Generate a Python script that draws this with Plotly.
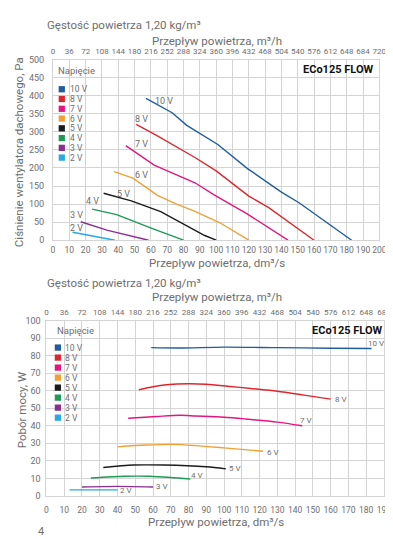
import plotly.graph_objects as go

W, H = 393, 539

# ---------------- data ----------------
voltages = ["10 V", "8 V", "7 V", "6 V", "5 V", "4 V", "3 V", "2 V"]
colors = ["#1f5c9e", "#e0262d", "#e5157f", "#f0a035", "#1b1b1b", "#1d9a56", "#8a2f8f", "#27a9e1"]

# pressure chart: flow dm3/s vs pressure Pa
pr_flow_10 = [57, 73, 82, 93, 101, 119, 140, 151, 183]
pr_pa_10 = [393, 353, 318, 286, 265, 199, 133, 103, 0]
pr_flow_8 = [51, 64, 87, 100, 120, 132, 160]
pr_pa_8 = [321, 289, 229, 192, 122, 91, 0]
pr_flow_7 = [44.6, 62, 87, 99, 119, 144]
pr_pa_7 = [262, 208, 159, 125, 73, 0]
pr_flow_6 = [37.4, 49, 64, 75, 87, 102, 120]
pr_pa_6 = [190, 172, 124, 101, 80, 49, 0]
pr_flow_5 = [31, 48, 66, 93, 100]
pr_pa_5 = [130, 109, 79, 13, 0]
pr_flow_4 = [24, 39, 61, 80]
pr_pa_4 = [86, 71, 32, 0]
pr_flow_3 = [17, 33, 58.6]
pr_pa_3 = [51, 28, 0]
pr_flow_2 = [12, 38]
pr_pa_2 = [22, 0]

# power chart: flow dm3/s vs power W
pw_flow_10 = [59, 75, 100, 130, 160, 183]
pw_w_10 = [84.6, 84.4, 84.9, 84.6, 84.3, 84.1]
pw_flow_8 = [52, 60, 67.5, 80, 90, 102, 115, 130, 145, 160]
pw_w_8 = [60.6, 62.3, 63.4, 64.0, 63.7, 62.6, 61.3, 59.7, 57.5, 55.2]
pw_flow_7 = [46, 62, 75, 84, 100, 112, 130, 144]
pw_w_7 = [44.3, 45.3, 46.0, 45.6, 44.9, 43.9, 42.1, 40.0]
pw_flow_6 = [40, 56, 71, 84, 100, 122]
pw_w_6 = [28.0, 29.0, 29.4, 28.7, 27.4, 25.5]
pw_flow_5 = [32, 49, 66, 90, 101]
pw_w_5 = [16.2, 17.6, 17.6, 16.6, 15.4]
pw_flow_4 = [25, 44, 58, 70, 81]
pw_w_4 = [10.2, 11.2, 11.2, 10.5, 9.6]
pw_flow_3 = [20, 40, 60]
pw_w_3 = [5.1, 5.4, 5.1]
pw_flow_2 = [13, 40]
pw_w_2 = [3.4, 3.4]

# ticks
pr_x_ticks = list(range(0, 201, 10))
pr_top_ticks = list(range(0, 721, 36))
pr_y_ticks = list(range(0, 501, 50))
pw_x_ticks = list(range(0, 191, 10))
pw_top_ticks = list(range(0, 685, 36))
pw_y_ticks = list(range(0, 101, 10))

pr_series = [(pr_flow_10, pr_pa_10), (pr_flow_8, pr_pa_8), (pr_flow_7, pr_pa_7), (pr_flow_6, pr_pa_6),
             (pr_flow_5, pr_pa_5), (pr_flow_4, pr_pa_4), (pr_flow_3, pr_pa_3), (pr_flow_2, pr_pa_2)]
pw_series = [(pw_flow_10, pw_w_10), (pw_flow_8, pw_w_8), (pw_flow_7, pw_w_7), (pw_flow_6, pw_w_6),
             (pw_flow_5, pw_w_5), (pw_flow_4, pw_w_4), (pw_flow_3, pw_w_3), (pw_flow_2, pw_w_2)]

# label placement (styles/positions)
pr_lbl_x = [68, 54, 54, 54, 43.5, 24.3, 14.1, 14.1]
pr_lbl_y = [385, 336, 265, 181, 129, 108, 69, 34]
pw_lbl_dx = [-6, 2, -4, 2, 1, -1, 1, 1]
pw_lbl_dy = [5, 0, 5, -1, 0, 4, 0, -1]

FONT = "Roboto"
GREY = "#6e6e6e"
GRID = "#d4d4d4"


def px(x):
    return x / W


def py(y):
    return 1 - y / H


# plot area geometry (pixels)
T_L, T_R, T_T, T_B = 44, 378, 47.5, 231.5
B_L, B_R, B_T, B_B = 37.3, 382.7, 313.5, 492

fig = go.Figure()

for name, col, (fx, fy) in zip(voltages, colors, pr_series):
    fig.add_trace(go.Scatter(x=fx, y=fy, mode="lines", line=dict(color=col, width=1.4),
                             xaxis="x", yaxis="y", showlegend=False, hoverinfo="skip"))
for name, col, (fx, fy) in zip(voltages, colors, pw_series):
    fig.add_trace(go.Scatter(x=fx, y=fy, mode="lines", line=dict(color=col, width=1.4, shape="spline", smoothing=0.8),
                             xaxis="x2", yaxis="y2", showlegend=False, hoverinfo="skip"))
# carriers for the m3/h axes
fig.add_trace(go.Scatter(x=pr_top_ticks, y=[None] * len(pr_top_ticks), xaxis="x3", yaxis="y",
                         showlegend=False, hoverinfo="skip"))
fig.add_trace(go.Scatter(x=pw_top_ticks, y=[None] * len(pw_top_ticks), xaxis="x4", yaxis="y2",
                         showlegend=False, hoverinfo="skip"))

tickfont = dict(family=FONT, size=8.5, color=GREY)
ytickfont = dict(family=FONT, size=9, color=GREY)
topfont = dict(family=FONT, size=8, color=GREY)

common_x = dict(showgrid=True, gridcolor=GRID, gridwidth=1, showline=True, linecolor=GRID, linewidth=1,
                mirror=True, zeroline=False, ticks="", tickangle=0, tickfont=tickfont, fixedrange=True)
common_y = dict(showgrid=True, gridcolor=GRID, gridwidth=1, showline=True, linecolor=GRID, linewidth=1,
                mirror=True, zeroline=False, ticks="", tickfont=ytickfont, fixedrange=True)

fig.update_layout(
    width=W, height=H,
    margin=dict(l=0, r=0, t=0, b=0),
    paper_bgcolor="white", plot_bgcolor="white",
    font=dict(family=FONT, color=GREY),
    xaxis=dict(domain=[px(T_L), px(T_R)], range=[0, 200], anchor="y", tickvals=pr_x_ticks,
               ticklabelstandoff=2, **common_x),
    yaxis=dict(domain=[py(T_B), py(T_T)], range=[0, 500], anchor="x", tickvals=pr_y_ticks,
               ticklabelstandoff=6, **common_y),
    xaxis3=dict(overlaying="x", side="top", anchor="y", range=[0, 720], tickvals=pr_top_ticks,
                showgrid=False, showline=False, zeroline=False, ticks="", tickangle=0,
                tickfont=topfont, ticklabelstandoff=3, fixedrange=True),
    xaxis2=dict(domain=[px(B_L), px(B_R)], range=[0, 190], anchor="y2", tickvals=pw_x_ticks,
                ticklabelstandoff=6, **common_x),
    yaxis2=dict(domain=[py(B_B), py(B_T)], range=[0, 100], anchor="x2", tickvals=pw_y_ticks,
                ticklabelstandoff=3, **common_y),
    xaxis4=dict(overlaying="x2", side="top", anchor="y2", range=[0, 684], tickvals=pw_top_ticks,
                showgrid=False, showline=False, zeroline=False, ticks="", tickangle=0,
                tickfont=topfont, ticklabelstandoff=3, fixedrange=True),
)

shapes = []
annotations = []

# white boxes (legend and model name)
box_spec = [
    (T_L + 0.5, 84, T_T + 0.5, 151),
    (300, T_R - 0.5, T_T + 0.5, 65),
    (B_L + 0.5, 76, B_T + 0.5, 418),
    (306, B_R - 0.5, B_T + 0.5, 332),
]
for x0, x1, y0, y1 in box_spec:
    shapes.append(dict(type="rect", xref="paper", yref="paper", x0=px(x0), x1=px(x1), y0=py(y1), y1=py(y0),
                       fillcolor="white", line=dict(width=0), layer="between"))

# page edge line
shapes.append(dict(type="line", xref="paper", yref="paper", x0=px(389.5), x1=px(389.5), y0=0, y1=1,
                   line=dict(color="#dcdcdc", width=1)))


def ann(text, x, y, size, xanchor="left", color=GREY, angle=0, bold=False):
    annotations.append(dict(text=("<b>%s</b>" % text) if bold else text, x=px(x), y=py(y), xref="paper",
                            yref="paper", xanchor=xanchor, yanchor="middle", showarrow=False,
                            textangle=angle, font=dict(family=FONT, size=size, color=color)))


# legends
for (title_x, title_y, sq_x, txt_x, row0, step) in [(47, 58.5, 53, 59, 77.7, 9.95), (45.7, 323.5, 49, 54, 340.9, 10.2)]:
    ann("Napięcie", title_x, title_y, 9.5)
    for i, (name, col) in enumerate(zip(voltages, colors)):
        yc = row0 + i * step
        shapes.append(dict(type="rect", xref="paper", yref="paper", x0=px(sq_x - 3.2), x1=px(sq_x + 3.2),
                           y0=py(yc + 3.2), y1=py(yc - 3.2), fillcolor=col, line=dict(width=0), layer="above"))
        ann(name, txt_x, yc, 8.5)

# model name
ann("ECo125 FLOW", 374, 57.5, 11, xanchor="right", color="#111111", bold=True)
ann("ECo125 FLOW", 383, 323.5, 11, xanchor="right", color="#111111", bold=True)

# series labels on pressure chart
for name, lx, ly in zip(voltages, pr_lbl_x, pr_lbl_y):
    annotations.append(dict(text=name, x=lx, y=ly, xref="x", yref="y", showarrow=False, xanchor="center",
                            yanchor="middle", font=dict(family=FONT, size=9, color=GREY)))

# series labels on power chart, at the end of each line
for name, (fx, fy), dx, dy in zip(voltages, pw_series, pw_lbl_dx, pw_lbl_dy):
    annotations.append(dict(text=name, x=fx[-1], y=fy[-1], xref="x2", yref="y2", showarrow=False,
                            xanchor="left", yanchor="middle", xshift=dx, yshift=dy,
                            font=dict(family=FONT, size=8, color=GREY)))

# titles
ann("Gęstość powietrza 1,20 kg/m³", 35.5, 12.5, 11.5)
ann("Przepływ powietrza, m³/h", 212, 29, 11.5, xanchor="center")
ann("Przepływ powietrza, dm³/s", 212, 255, 11.5, xanchor="center")
ann("Ciśnienie wentylatora dachowego, Pa", 10, 142, 11.5, xanchor="center", angle=-90)

ann("Gęstość powietrza 1,20 kg/m³", 35.5, 275, 11.5)
ann("Przepływ powietrza, m³/h", 212, 289, 11.5, xanchor="center")
ann("Przepływ powietrza, dm³/s", 211, 519, 11.5, xanchor="center")
ann("Pobór mocy, W", 13, 405, 11.5, xanchor="center", angle=-90)

ann("4", 27, 528, 11)

fig.update_layout(shapes=shapes, annotations=annotations)

fig.write_html("out.html")
